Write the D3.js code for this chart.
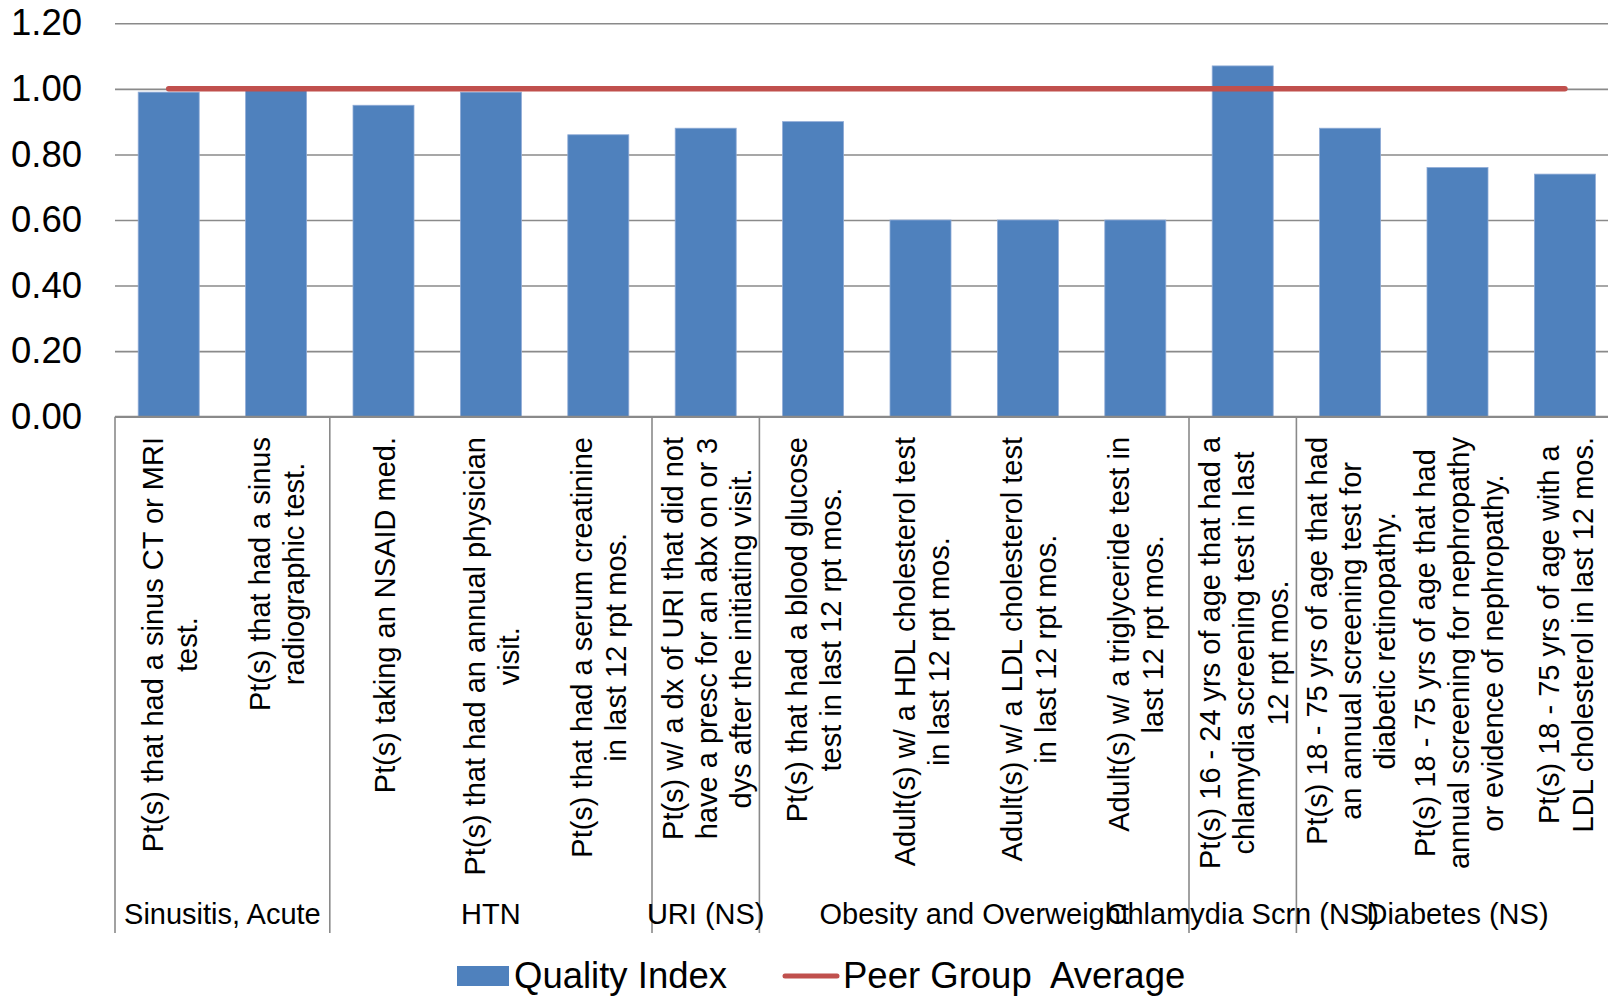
<!DOCTYPE html>
<html><head><meta charset="utf-8">
<script src="https://cdn.jsdelivr.net/npm/d3@7"></script>
<style>
html,body{margin:0;padding:0;background:#fff;overflow:hidden}
text{font-family:"Liberation Sans", Arial, sans-serif;fill:#000}
</style>
</head><body>
<svg id="c" width="1608" height="996"></svg>
<script>
// ---- data ----
const categories = [
  ["Pt(s) that had a sinus CT or MRI", "test."],
  ["Pt(s) that had a sinus", "radiographic test."],
  ["Pt(s) taking an NSAID med."],
  ["Pt(s) that had an annual physician", "visit."],
  ["Pt(s) that had a serum creatinine", "in last 12 rpt mos."],
  ["Pt(s) w/ a dx of URI that did not", "have a presc for an abx on or 3", "dys after the initiating visit."],
  ["Pt(s) that had a blood glucose", "test in last 12 rpt mos."],
  ["Adult(s) w/ a HDL cholesterol test", "in last 12 rpt mos."],
  ["Adult(s) w/ a LDL cholesterol test", "in last 12 rpt mos."],
  ["Adult(s) w/ a triglyceride test in", "last 12 rpt mos."],
  ["Pt(s) 16 - 24 yrs of age that had a", "chlamydia screening test in last", "12 rpt mos."],
  ["Pt(s) 18 - 75 yrs of age that had", "an annual screening test for", "diabetic retinopathy."],
  ["Pt(s) 18 - 75 yrs of age that had", "annual screening for nephropathy", "or evidence of nephropathy."],
  ["Pt(s) 18 - 75 yrs of age with a", "LDL cholesterol in last 12 mos."]
];
const qualityIndex = [0.99, 1.00, 0.95, 0.99, 0.86, 0.88, 0.90, 0.60, 0.60, 0.60, 1.07, 0.88, 0.76, 0.74];
const peerGroupAverage = [1.00, 1.00, 1.00, 1.00, 1.00, 1.00, 1.00, 1.00, 1.00, 1.00, 1.00, 1.00, 1.00, 1.00];
const groups = ["Sinusitis, Acute", "HTN", "URI (NS)", "Obesity and Overweight", "Chlamydia Scrn (NS)", "Diabetes (NS)"];
const groupSizes = [2, 3, 1, 4, 1, 3];
const yTicks = [0, 0.2, 0.4, 0.6, 0.8, 1.0, 1.2];
const seriesNames = ["Quality Index", "Peer Group  Average"];

// ---- layout ----
const L = 115, R = 1618.6, T = 23.3, B = 416.7;
const BLUE = "#4F81BD", RED = "#C0504D", GRID = "#8a8a8a";
const svg = d3.select("#c");
const idx = d3.range(categories.length);

const x = d3.scaleBand().domain(idx).range([L, R]).paddingInner(0.432).paddingOuter(0.216);
const xo = d3.scaleBand().domain(idx).range([L, R]).padding(0);
const y = d3.scaleLinear().domain([0, 1.2]).range([B, T]);

// gridlines + y labels
const yAxis = d3.axisLeft(y).tickValues(yTicks).tickFormat(d3.format(".2f"))
  .tickSize(-(R - L)).tickPadding(33);
const ga = svg.append("g").attr("transform", `translate(${L},0)`).call(yAxis);
ga.select(".domain").remove();
ga.selectAll(".tick line").attr("stroke", GRID).attr("stroke-width", 1.6);
ga.selectAll(".tick text").attr("font-size", 36.5).attr("font-family", '"Liberation Sans", Arial, sans-serif').attr("fill", "#000");

// bars
svg.append("g").selectAll("rect").data(qualityIndex).join("rect")
  .attr("x", (d, i) => x(i)).attr("width", x.bandwidth())
  .attr("y", d => y(d)).attr("height", d => y(0) - y(d))
  .attr("fill", BLUE).attr("stroke", "#8fabd6").attr("stroke-width", 0.8);

// category axis line
svg.append("line").attr("x1", L).attr("x2", R).attr("y1", y(0)).attr("y2", y(0))
  .attr("stroke", GRID).attr("stroke-width", 2);

// peer group line
const line = d3.line().x((d, i) => x(i) + x.bandwidth() / 2).y(d => y(d));
svg.append("path").datum(peerGroupAverage).attr("d", line)
  .attr("fill", "none").attr("stroke", RED).attr("stroke-width", 5.5).attr("stroke-linecap", "round");

// group dividers
const bounds = [0];
groupSizes.forEach(s => bounds.push(bounds[bounds.length - 1] + s));
const edge = k => k < categories.length ? xo(k) : R;
svg.append("g").selectAll("line").data(bounds).join("line")
  .attr("x1", k => edge(k)).attr("x2", k => edge(k))
  .attr("y1", y(0)).attr("y2", 933)
  .attr("stroke", GRID).attr("stroke-width", 1.6);

// rotated category labels
const FS = 29, LH = 34, TOP = 437;
const lg = svg.append("g").attr("font-size", FS);
categories.forEach((lines, i) => {
  const cx = x(i) + x.bandwidth() / 2;
  const nodes = lines.map(t => lg.append("text").attr("text-anchor", "middle").text(t));
  const maxW = d3.max(nodes, n => n.node().getComputedTextLength());
  const cy = TOP + maxW / 2;
  nodes.forEach((n, j) => {
    const bx = cx + (j - (lines.length - 1) / 2) * LH + 11;
    n.attr("transform", `translate(${bx},${cy}) rotate(-90)`);
  });
});

// group labels
svg.append("g").selectAll("text").data(groups).join("text")
  .attr("x", (d, i) => (edge(bounds[i]) + edge(bounds[i + 1])) / 2)
  .attr("y", 924).attr("text-anchor", "middle").attr("font-size", 29)
  .text(d => d);

// legend
svg.append("rect").attr("x", 457).attr("y", 966).attr("width", 52).attr("height", 20).attr("fill", BLUE);
svg.append("text").attr("x", 514).attr("y", 988).attr("font-size", 36.5).text(seriesNames[0]);
svg.append("line").attr("x1", 785).attr("x2", 837).attr("y1", 976).attr("y2", 976)
  .attr("stroke", RED).attr("stroke-width", 5).attr("stroke-linecap", "round");
svg.append("text").attr("x", 843).attr("y", 988).attr("font-size", 36.5)
  .style("white-space", "pre").text(seriesNames[1]);
</script>
</body></html>
